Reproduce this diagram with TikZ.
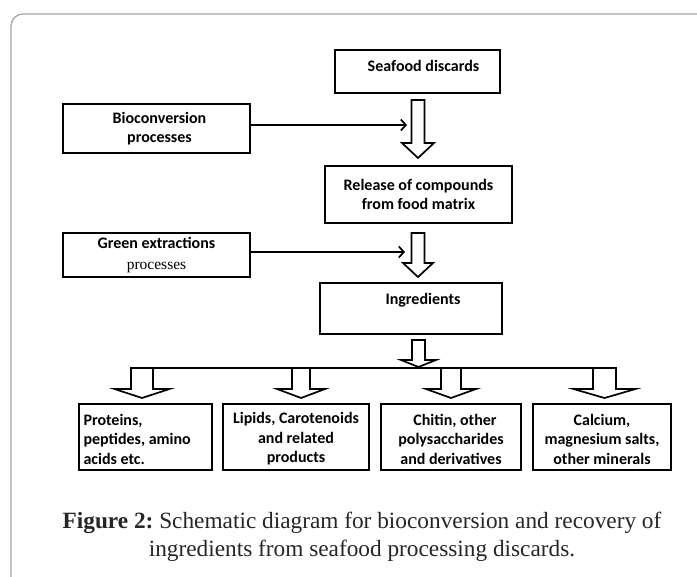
\documentclass[tikz,border=0pt]{standalone}
\usepackage{fontspec}
\setmainfont{Carlito}
\newfontfamily\capfont{Liberation Serif}
\usetikzlibrary{arrows.meta}
\frenchspacing
\newcommand\topstrut{\rule{0pt}{15.5pt}}
\newcommand\hollowarrow[7]{%
  % #1 x center, #2 top y, #3 head base y, #4 tip y, #5 shaft half width, #6 head half width, #7 name
  \draw[blk] (#1-#5,#2) coordinate (#7) -- (#1+#5,#2) -- (#1+#5,#3) -- (#1+#6,#3) -- (#1,#4) -- (#1-#6,#3) -- (#1-#5,#3) -- cycle;}
\begin{document}
\begin{tikzpicture}[x=1pt,y=-1pt,
  box/.style={draw, line width=1.7pt, inner sep=0pt, align=center,
    font=\bfseries\fontsize{16}{19.5}\selectfont},
  prod/.style={box, minimum height=66pt},
  blk/.style={draw, line width=1.7pt, fill=white, line join=miter},
  feed/.style={line width=1.7pt, -{Straight Barb[length=5pt,width=11pt,line width=1.7pt]}}]
\useasboundingbox (0,0) rectangle (697,577);
\begin{scope}
  \clip (0,0) rectangle (697,577);
  \draw[black!35, line width=1.3pt, rounded corners=12pt] (720,14) -- (11,14) -- (11,600);
\end{scope}

% main column
\node[box, minimum width=165pt, minimum height=43pt, text depth=11pt] (sea) at (417.5,71.5) {\hspace*{12pt}Seafood discards};
\node[box, minimum width=187pt, minimum height=57pt] (rel) at (418.5,194.5) {Release of compounds\\from food matrix};
\node[box, minimum width=182pt, minimum height=51pt, text depth=19pt] (ingr) at (411,308.5) {\hspace*{24pt}Ingredients};

% side inputs
\node[box, minimum width=187pt, minimum height=49pt] (bio) at (156.5,128.5) {\hspace*{6pt}Bioconversion\\\hspace*{6pt}processes};
\node[box, minimum width=187pt, minimum height=44pt] (green) at (156.5,255) {Green extractions\\[1pt]{\capfont\mdseries\fontsize{15.5}{15}\selectfont processes}};

\coordinate (f1) at (407,125);
\coordinate (f2) at (405,252);
\draw[feed] (bio.east |- f1) -- (f1);
\draw[feed] (green.east |- f2) -- (f2);

% big hollow arrows
\hollowarrow{418}{100}{143}{158}{6.5}{16}{ha1}
\hollowarrow{418}{233}{263}{277}{6.5}{15}{ha2}
\hollowarrow{418.5}{340}{360}{367}{6.5}{17.5}{ha3}

% products
\node[prod, minimum width=133pt, text width=124pt, align=flush left] (p1) at (145.5,437) {\topstrut Proteins,\\peptides, amino\\acids etc.};
\node[prod, minimum width=146pt] (p2) at (296,437) {\topstrut Lipids, Carotenoids\\and related\\products};
\node[prod, minimum width=140pt] (p3) at (451,437) {\topstrut\hspace*{8pt}Chitin, other\\polysaccharides\\and derivatives};
\node[prod, minimum width=138pt] (p4) at (602,437) {\topstrut Calcium,\\magnesium salts,\\other minerals};

% small hollow arrows
\hollowarrow{142}{368}{389}{398}{11}{27.5}{sa1}
\hollowarrow{301}{368}{389}{398}{9}{24}{sa2}
\hollowarrow{451}{368}{389}{398}{10}{25}{sa3}
\hollowarrow{604.5}{368}{389}{398}{11.5}{31}{sa4}
\draw[line width=1.7pt] (131,368) -- (616,368);

% caption
\node[font=\capfont\fontsize{23.3}{28}\selectfont, text=black!85, align=center] (cap) at (362,537)
  {\textbf{Figure 2:} Schematic diagram for bioconversion and recovery of\\ingredients from seafood processing discards.};
\end{tikzpicture}
\end{document}
